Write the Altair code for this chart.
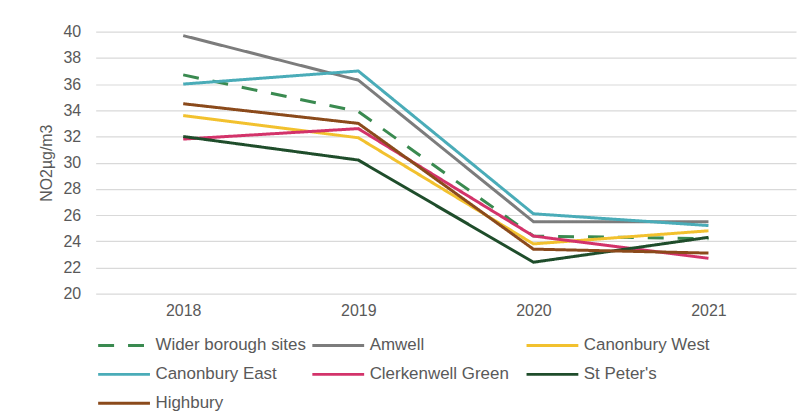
import altair as alt
import pandas as pd

years = ["2018", "2019", "2020", "2021"]
sites = ["Wider borough sites", "Amwell", "Canonbury West", "Canonbury East",
         "Clerkenwell Green", "St Peter's", "Highbury"]
wider = [36.7, 33.9, 24.4, 24.2]
amwell = [39.7, 36.3, 25.5, 25.5]
canonbury_west = [33.6, 31.9, 23.8, 24.8]
canonbury_east = [36.0, 37.0, 26.1, 25.2]
clerkenwell = [31.8, 32.6, 24.4, 22.7]
st_peters = [32.0, 30.2, 22.4, 24.3]
highbury = [34.5, 33.0, 23.4, 23.1]

colors = ["#3a8a50", "#7c7c7c", "#f2c12e", "#4aacb8", "#d3336a", "#1f4d2b", "#8b4a1b"]
dashes = [[16, 14], [1, 0], [1, 0], [1, 0], [1, 0], [1, 0], [1, 0]]

series = [wider, amwell, canonbury_west, canonbury_east, clerkenwell, st_peters, highbury]
rows = []
for s, vals in zip(sites, series):
    for y, v in zip(years, vals):
        rows.append({"site": s, "year": y, "value": v})
df = pd.DataFrame(rows)

font = "Arial, Liberation Sans, sans-serif"
txt = "#595959"

chart = alt.Chart(df).mark_line(strokeWidth=3).encode(
    x=alt.X("year:O", sort=years, title=None,
            axis=alt.Axis(labelAngle=0, ticks=False, domain=False, labelFontSize=16,
                          labelColor=txt, labelPadding=9, labelFont=font)),
    y=alt.Y("value:Q", title="NO2µg/m3",
            scale=alt.Scale(domain=[20, 40], nice=False, zero=False),
            axis=alt.Axis(values=list(range(20, 41, 2)), ticks=False, domain=False,
                          labelFontSize=16, labelColor=txt, labelPadding=15, labelFont=font,
                          titleFontSize=16, titleFontWeight="normal", titleColor=txt,
                          titleFont=font, titlePadding=9, gridColor="#d9d9d9", gridWidth=1.2)),
    color=alt.Color("site:N", sort=sites, title=None,
                    scale=alt.Scale(domain=sites, range=colors),
                    legend=alt.Legend(orient="none", legendX=1, legendY=307, columns=3,
                                      direction="horizontal",
                                      symbolType="stroke", symbolSize=2704, symbolStrokeWidth=3,
                                      clipHeight=16,
                                      labelFontSize=17, labelColor=txt, labelFont=font,
                                      labelLimit=400, columnPadding=4, rowPadding=12,
                                      gridAlign="all", labelOffset=4)),
    strokeDash=alt.StrokeDash("site:N", sort=sites, title=None,
                              scale=alt.Scale(domain=sites, range=dashes),
                              legend=None),
    order=alt.Order("year:O"),
).properties(
    width=703, height=263,
    padding={"left": 30, "top": 15, "right": 3, "bottom": 0},
).configure_view(stroke=None)

chart.save("out.html", embed_options={"renderer": "svg", "actions": False})
